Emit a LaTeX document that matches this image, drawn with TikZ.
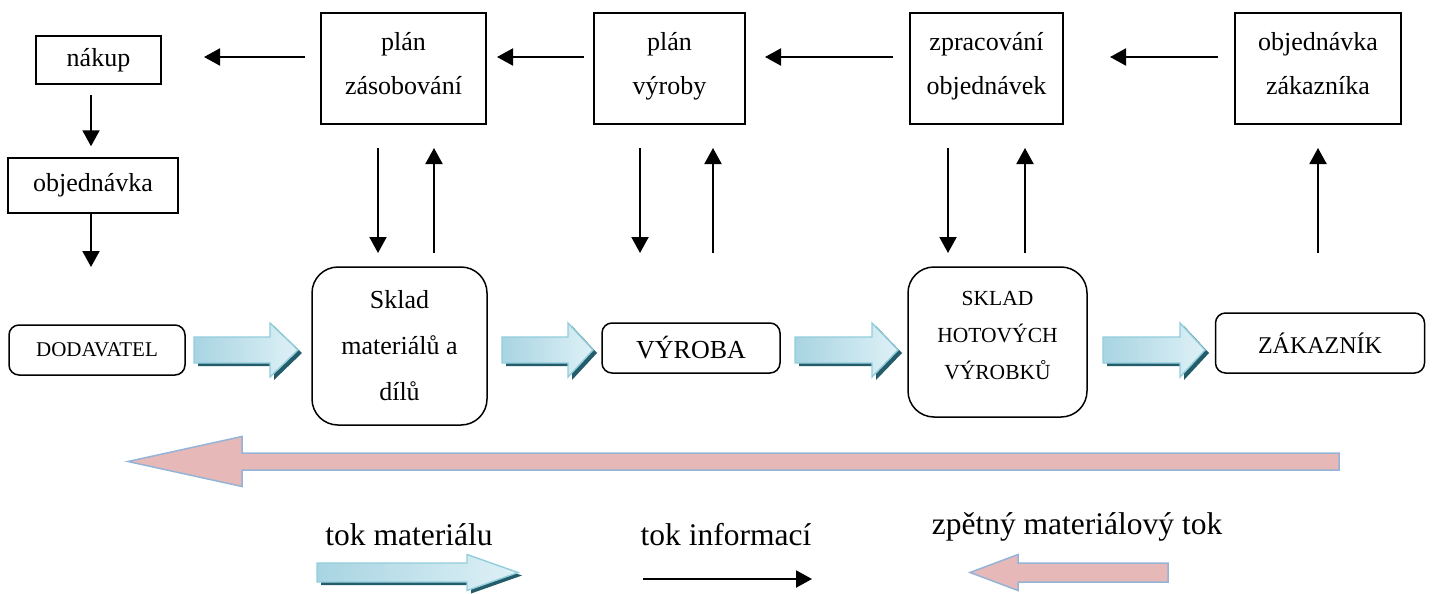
\documentclass[tikz,border=0pt]{standalone}
\usepackage{fontspec}
\setmainfont{Liberation Serif}
\usetikzlibrary{arrows.meta}

\definecolor{matA}{RGB}{168,212,226}
\definecolor{matB}{RGB}{222,241,246}
\definecolor{matedge}{RGB}{146,205,220}
\definecolor{matshadow}{RGB}{36,92,106}
\definecolor{retfill}{RGB}{230,185,184}
\definecolor{retedge}{RGB}{149,179,215}

% material flow arrow: #1 tail x, #2 head base x, #3 tip x, #4 centre y, #5 half body, #6 half head
\newcommand\matarrow[6]{%
  \fill[matshadow] (#1+4,#4-#5+3) -- (#2+4,#4-#5+3) -- (#2+4,#4-#6+3) -- (#3+4,#4+3)
    -- (#2+4,#4+#6+3) -- (#2+4,#4+#5+3) -- (#1+4,#4+#5+3) -- cycle;
  \shadedraw[left color=matA, right color=matB, draw=matedge, line width=1.4pt, line join=miter]
    (#1,#4-#5) -- (#2,#4-#5) -- (#2,#4-#6) -- (#3,#4) -- (#2,#4+#6) -- (#2,#4+#5) -- (#1,#4+#5) -- cycle;
}
% return flow arrow: #1 tip x, #2 head base x, #3 tail x, #4 centre y, #5 half body, #6 half head
\newcommand\retarrow[6]{%
  \filldraw[fill=retfill, draw=retedge, line width=1.5pt, line join=miter]
    (#1,#4) -- (#2,#4-#6) -- (#2,#4-#5) -- (#3,#4-#5) -- (#3,#4+#5) -- (#2,#4+#5) -- (#2,#4+#6) -- cycle;
}

\tikzset{
  plainbox/.style={draw, line width=1.5pt, inner sep=0pt, align=center,
    font=\fontsize{26}{44}\selectfont},
  planbox/.style={plainbox, minimum height=111pt, text depth=10pt},
  flowbox/.style={draw, line width=1.5pt, rounded corners=10pt, inner sep=0pt, align=center,
    font=\fontsize{26}{30}\selectfont},
  storebox/.style={flowbox, rounded corners=26pt},
  info/.style={line width=2pt, -{Triangle[length=16pt,width=17pt]}},
  legendtext/.style={anchor=base, inner sep=0pt, font=\fontsize{31.5}{36}\selectfont},
}

\begin{document}
\begin{tikzpicture}[x=1pt, y=-1pt]
\useasboundingbox (0,0) rectangle (1437,594);

% planning row
\node[plainbox, minimum width=125pt, minimum height=48pt] (nakup) at (98.5,60) {nákup};
\node[plainbox, minimum width=170pt, minimum height=55pt] (obj) at (93,185.5) {objednávka};
\node[planbox, minimum width=165pt] (pz) at (403.5,68.5) {plán\\zásobování};
\node[planbox, minimum width=151pt] (pv) at (669.5,68.5) {plán\\výroby};
\node[planbox, minimum width=153pt] (zo) at (986.5,68.5) {zpracování\\objednávek};
\node[planbox, minimum width=166pt] (oz) at (1318,68.5) {objednávka\\zákazníka};

% material row
\node[flowbox, minimum width=176pt, minimum height=50pt, font=\fontsize{21}{25}\selectfont] (dod) at (97,350) {DODAVATEL};
\node[storebox, minimum width=175pt, minimum height=158pt, font=\fontsize{26}{46}\selectfont] (skm) at (399.5,346) {Sklad\\materiálů a\\dílů};
\node[flowbox, minimum width=178pt, minimum height=50pt] (vyr) at (691,348) {VÝROBA};
\node[storebox, minimum width=179pt, minimum height=150pt, text depth=14pt, font=\fontsize{21.5}{37}\selectfont] (skh) at (997.5,342) {SKLAD\\HOTOVÝCH\\VÝROBKŮ};
\node[flowbox, minimum width=209pt, minimum height=60pt, font=\fontsize{24}{28}\selectfont] (zak) at (1320,343) {ZÁKAZNÍK};

% information flow end points
\coordinate (h1s) at (305,57);  \coordinate (h1e) at (204,57);
\coordinate (h2s) at (584,57);  \coordinate (h2e) at (497,57);
\coordinate (h3s) at (893,57);  \coordinate (h3e) at (765,57);
\coordinate (h4s) at (1218,57); \coordinate (h4e) at (1110,57);
\coordinate (o1) at (91,267);
\coordinate (d1s) at (378,148); \coordinate (d1e) at (378,253);
\coordinate (u1s) at (434,253); \coordinate (u1e) at (434,148);
\coordinate (d2s) at (640,148); \coordinate (d2e) at (640,253);
\coordinate (u2s) at (713,253); \coordinate (u2e) at (713,148);
\coordinate (d3s) at (948,148); \coordinate (d3e) at (948,253);
\coordinate (u3s) at (1025,253); \coordinate (u3e) at (1025,148);
\coordinate (u4s) at (1318,253); \coordinate (u4e) at (1318,148);

\draw[info] (h1s) -- (h1e);
\draw[info] (h2s) -- (h2e);
\draw[info] (h3s) -- (h3e);
\draw[info] (h4s) -- (h4e);
\draw[info, shorten <=10pt, shorten >=11pt] (nakup.south -| o1) -- (obj.north -| o1);
\draw[info] (obj.south -| o1) -- (o1);
\draw[info] (d1s) -- (d1e);
\draw[info] (u1s) -- (u1e);
\draw[info] (d2s) -- (d2e);
\draw[info] (u2s) -- (u2e);
\draw[info] (d3s) -- (d3e);
\draw[info] (u3s) -- (u3e);
\draw[info] (u4s) -- (u4e);

% material flow
\matarrow{194}{270}{298}{350}{13}{27}
\matarrow{502}{568}{593}{350}{13}{27}
\matarrow{795}{872}{898}{350}{13}{27}
\matarrow{1103}{1180}{1205}{350}{13}{27}

% return flow
\retarrow{128}{242}{1339}{461.5}{8.5}{25}

% legend
\node[legendtext] (lm) at (409,545) {tok materiálu};
\node[legendtext] (li) at (726,545) {tok informací};
\node[legendtext] (lr) at (1077,534) {zpětný materiálový tok};
\matarrow{317}{467}{518}{572.5}{9.5}{18}
\coordinate (lis) at (643,579); \coordinate (lie) at (812,579);
\draw[info] (lis) -- (lie);
\retarrow{970}{1018}{1168}{572.5}{9.5}{18}
\end{tikzpicture}
\end{document}
